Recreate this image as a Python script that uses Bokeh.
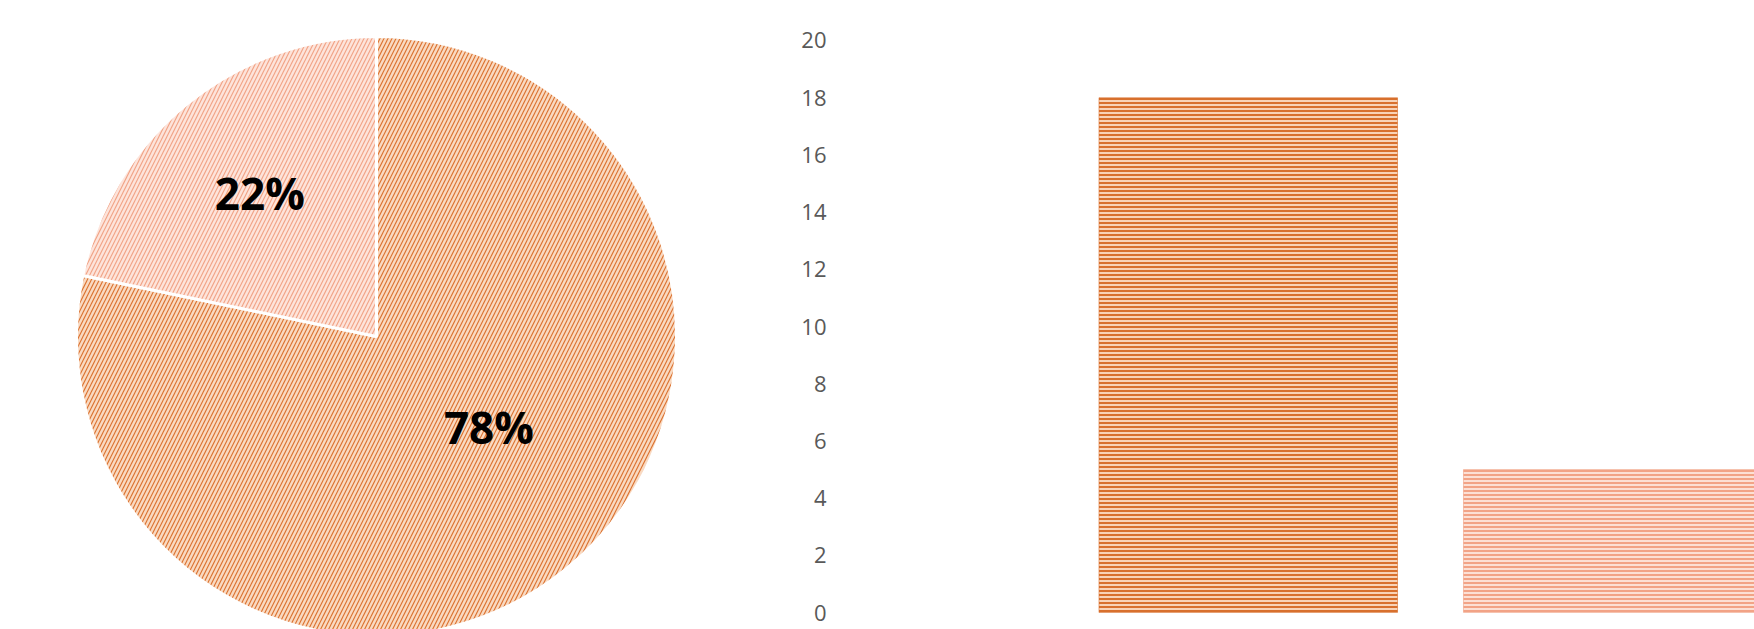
import math
from bokeh.plotting import figure
from bokeh.models import Range1d, ColumnDataSource, FixedTicker
from bokeh.layouts import row
from bokeh.core.properties import value
from bokeh.embed import file_html
from bokeh.resources import INLINE

# ---- data ----
categories = ["Category 1", "Category 2"]
values = [18, 5]
y_ticks = [0, 2, 4, 6, 8, 10, 12, 14, 16, 18, 20]

# ---- styles ----
fill_bg = ["#F9DAC2", "#FDE4DB"]
hatch_fg = ["#DC7432", "#F2A487"]
bar_bg = ["#F8D3B7", "#FCE0D5"]
bar_fg = ["#D8702D", "#F2A386"]

# ---- pie ----
PW, PH = 768, 629
pie = figure(width=PW, height=PH, x_range=Range1d(0, PW), y_range=Range1d(0, PH),
             output_backend="svg", toolbar_location=None,
             x_axis_location=None, y_axis_location=None, min_border=0,
             outline_line_color=None)
pie.grid.visible = False

cx, cy, r = 376, 293, 300
total = float(sum(values))
fracs = [v / total for v in values]
starts, ends = [], []
cum = 0.0
for f in fracs:
    starts.append(math.pi / 2 - cum * 2 * math.pi)
    cum += f
    ends.append(math.pi / 2 - cum * 2 * math.pi)

src = ColumnDataSource(dict(start=starts, end=ends, fill=fill_bg, hatch=hatch_fg))
pie.wedge(x=cx, y=cy, radius=r, start_angle="start", end_angle="end", direction="clock",
          fill_color="fill", hatch_pattern="/", hatch_color="hatch", hatch_scale=8,
          hatch_weight=1.2, line_color="white", line_width=3, source=src)

label_r = [144, 185]
label_ang = [-38.7, 129.1]
lx = [cx + lr * math.cos(math.radians(a)) for lr, a in zip(label_r, label_ang)]
ly = [cy + lr * math.sin(math.radians(a)) for lr, a in zip(label_r, label_ang)]
ltxt = ["%d%%" % round(f * 100) for f in fracs]
pie.text(x=lx, y=ly, text=ltxt, text_font=value("Open Sans"), text_font_style="bold",
         text_font_size="44px", text_align="center", text_baseline="middle",
         text_color="black")

# ---- bars ----
bar = figure(width=986, height=629, x_range=Range1d(-0.1187, 2.3889),
             y_range=Range1d(-0.5944, 21.3986), output_backend="svg",
             toolbar_location=None, x_axis_location=None,
             min_border_left=72, min_border_right=0, min_border_top=0,
             min_border_bottom=0, outline_line_color=None)
bar.grid.visible = False
xs = list(range(1, len(categories) + 1))
bsrc = ColumnDataSource(dict(x=xs, top=values, fill=bar_bg, hatch=bar_fg, cat=categories))
bar.vbar(x="x", top="top", bottom=0, width=0.819, fill_color="fill",
         hatch_pattern="-", hatch_color="hatch", hatch_scale=4, hatch_weight=2,
         line_color="hatch", line_width=1, line_alpha=0.6, source=bsrc)

ax = bar.yaxis[0]
ax.ticker = FixedTicker(ticks=y_ticks)
ax.axis_line_color = None
ax.major_tick_line_color = None
ax.minor_tick_line_color = None
ax.major_label_standoff = 8
ax.major_label_text_font = "Open Sans"
ax.major_label_text_font_size = "22px"
ax.major_label_text_color = "#595959"

layout = row(pie, bar)
open("out.html", "w").write(file_html(layout, INLINE))
